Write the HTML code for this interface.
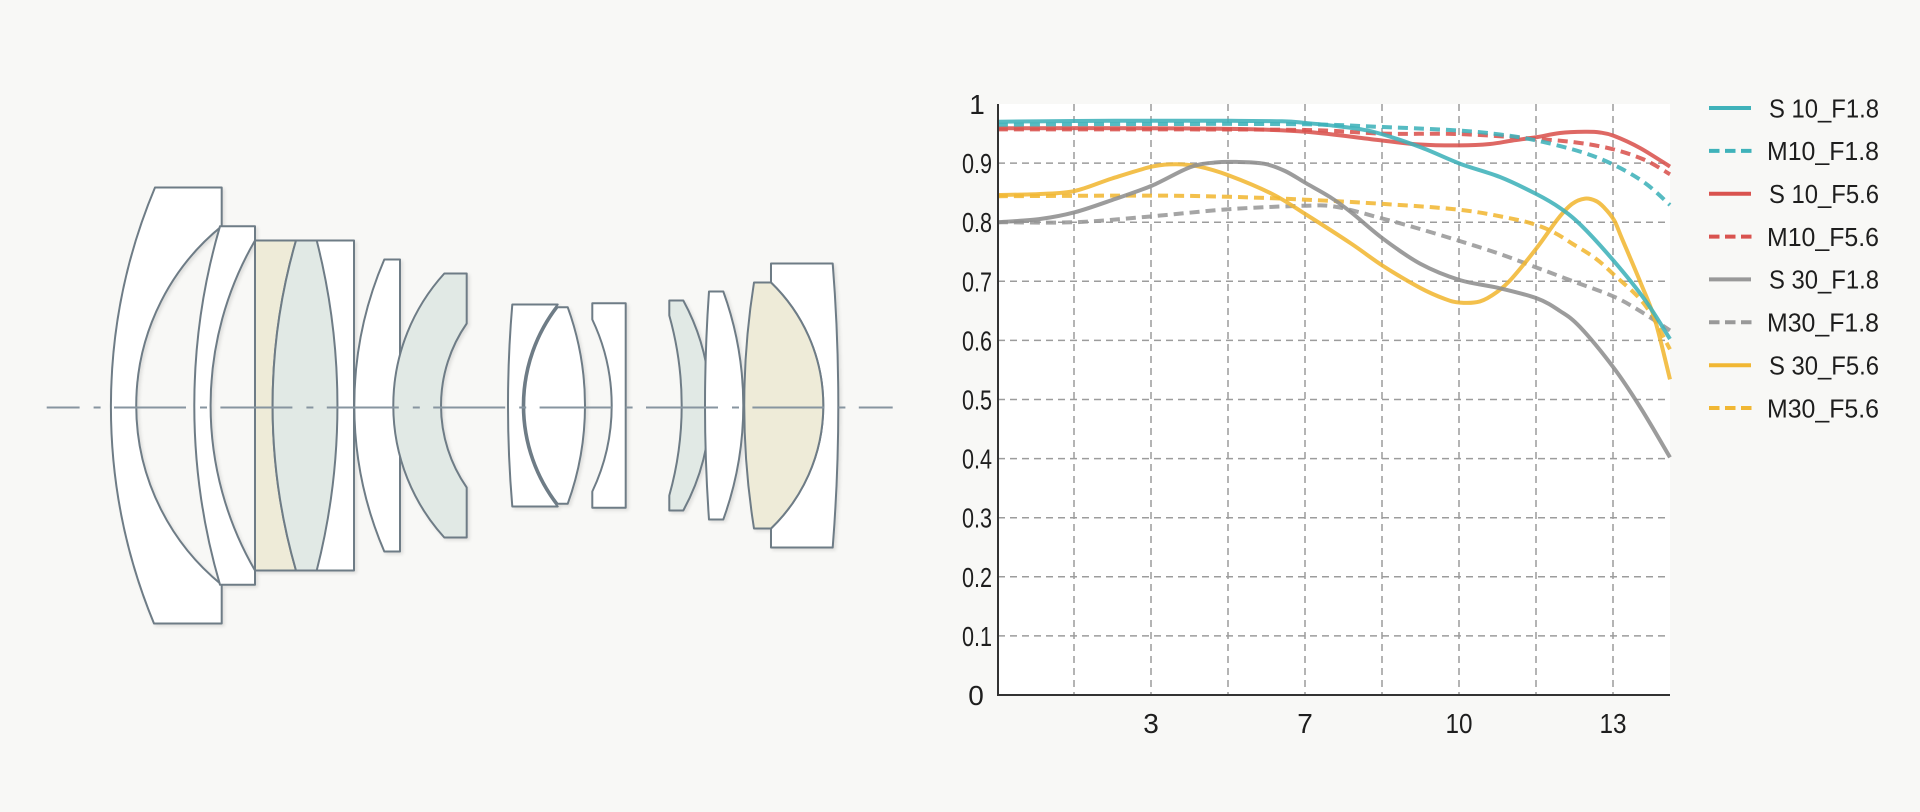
<!DOCTYPE html>
<html>
<head>
<meta charset="utf-8">
<style>
  html,body{margin:0;padding:0;background:#f8f8f6;}
  svg{display:block;}
  .lens{stroke:#6e7c86;stroke-width:2;stroke-linejoin:round;}
  .grid{stroke:#9c9c9c;stroke-width:1.5;stroke-dasharray:7 5;fill:none;}
  .ser{fill:none;stroke-width:4;stroke-linejoin:round;stroke-linecap:butt;opacity:0.88;}
  .dash{stroke-dasharray:10 6;}
  .tick{font-family:"Liberation Sans",sans-serif;font-size:28px;fill:#1e1e1e;}
  .leg{font-family:"Liberation Sans",sans-serif;font-size:26px;fill:#1e1e1e;}
</style>
</head>
<body>
<svg width="1920" height="812" viewBox="0 0 1920 812" xmlns="http://www.w3.org/2000/svg">
  <rect x="0" y="0" width="1920" height="812" fill="#f8f8f6"/>

  <!-- ================= LENS DIAGRAM ================= -->
  <g transform="translate(0,-2)" style="filter:drop-shadow(2px 2px 1.5px rgba(0,0,0,0.10))">
    <!-- Element 1 -->
    <path class="lens" fill="#ffffff" d="M155,189.5 L221.7,189.5 L221.7,228.2 A230.8,230.8 0 0 0 221.7,586.8 L221.7,625.5 L154,625.5 A567,567 0 0 1 155,189.5 Z"/>
    <!-- Element 2 -->
    <path class="lens" fill="#ffffff" d="M220,228.2 L255,228.2 L255,242.5 A328.7,328.7 0 0 0 255,572.5 L255,586.8 L220,586.8 A638.2,638.2 0 0 1 220,228.2 Z"/>
    <!-- Element 3 group -->
    <rect class="lens" fill="#ffffff" x="255" y="242.5" width="99" height="330"/>
    <path class="lens" fill="#eeebd8" d="M255,242.5 L296,242.5 A593.2,593.2 0 0 0 296,572.5 L255,572.5 Z"/>
    <path class="lens" fill="#e1e9e5" d="M296,242.5 A593.2,593.2 0 0 0 296,572.5 L316.7,572.5 A666.6,666.6 0 0 0 316.7,242.5 Z"/>
    <!-- Element 4 -->
    <path class="lens" fill="#ffffff" d="M384.3,261.5 L400,261.5 L400,553.5 L384.3,553.5 A370.3,370.3 0 0 1 384.3,261.5 Z"/>
    <!-- Element 5 -->
    <path class="lens" fill="#e1e9e5" d="M444.3,275.5 L466.7,275.5 L466.7,325.5 A143.7,143.7 0 0 0 466.7,489.5 L466.7,539.5 L444.3,539.5 A196.3,196.3 0 0 1 444.3,275.5 Z"/>
    <!-- Element 6 -->
    <path class="lens" fill="#ffffff" d="M512.3,306.5 L557.7,306.5 A163.2,163.2 0 0 0 557.7,508.5 L512.3,508.5 A1188,1188 0 0 1 512.3,306.5 Z"/>
    <!-- Element 7 -->
    <path class="lens" fill="#ffffff" d="M557.7,309.2 L567.7,309.2 A287.9,287.9 0 0 1 567.7,505.8 L557.7,505.8 A161.4,161.4 0 0 1 557.7,309.2 Z"/>
    <!-- Element 8 -->
    <path class="lens" fill="#ffffff" d="M592.3,305.2 L625.7,305.2 L625.7,509.8 L592.3,509.8 L592.3,493.5 A200.3,200.3 0 0 0 592.3,321.5 Z"/>
    <!-- Element 9 -->
    <path class="lens" fill="#e1e9e5" d="M669.3,302.5 L683.3,302.5 A219.8,219.8 0 0 1 683.3,512.5 L669.3,512.5 L669.3,497.5 A332.8,332.8 0 0 0 669.3,317.5 Z"/>
    <!-- Element 10 -->
    <path class="lens" fill="#ffffff" d="M709,293.5 L723.3,293.5 A334.9,334.9 0 0 1 723.3,521.5 L709,521.5 A1626.5,1626.5 0 0 1 709,293.5 Z"/>
    <!-- Element 12 -->
    <path class="lens" fill="#ffffff" d="M771,265.5 L832.7,265.5 A1803,1803 0 0 1 832.7,549.5 L771,549.5 L771,530.5 A170.8,170.8 0 0 0 771,284.5 Z"/>
    <!-- Element 11 -->
    <path class="lens" fill="#eeebd8" d="M754,284.5 L771,284.5 A170.8,170.8 0 0 1 771,530.5 L754,530.5 A784.7,784.7 0 0 1 754,284.5 Z"/>
  </g>
  <!-- optical axis -->
  <line x1="46.7" y1="407.5" x2="892.7" y2="407.5" stroke="#8795a0" stroke-width="2" stroke-dasharray="72 14 7 13.4" stroke-dashoffset="39.1"/>

  <!-- ================= CHART ================= -->
  <rect x="998" y="104" width="672" height="591" fill="#ffffff"/>

  <!-- horizontal grid -->
  <g class="grid">
    <line x1="998" y1="635.9" x2="1670" y2="635.9"/>
    <line x1="998" y1="576.8" x2="1670" y2="576.8"/>
    <line x1="998" y1="517.7" x2="1670" y2="517.7"/>
    <line x1="998" y1="458.6" x2="1670" y2="458.6"/>
    <line x1="998" y1="399.5" x2="1670" y2="399.5"/>
    <line x1="998" y1="340.4" x2="1670" y2="340.4"/>
    <line x1="998" y1="281.3" x2="1670" y2="281.3"/>
    <line x1="998" y1="222.2" x2="1670" y2="222.2"/>
    <line x1="998" y1="163.1" x2="1670" y2="163.1"/>
  </g>
  <!-- vertical grid -->
  <g class="grid">
    <line x1="1074" y1="104" x2="1074" y2="695"/>
    <line x1="1151" y1="104" x2="1151" y2="695"/>
    <line x1="1228" y1="104" x2="1228" y2="695"/>
    <line x1="1305" y1="104" x2="1305" y2="695"/>
    <line x1="1382" y1="104" x2="1382" y2="695"/>
    <line x1="1459" y1="104" x2="1459" y2="695"/>
    <line x1="1536" y1="104" x2="1536" y2="695"/>
    <line x1="1613" y1="104" x2="1613" y2="695"/>
  </g>

  <!-- series -->
  <g>
    <polyline class="ser dash" stroke="#f1b733" points="998,196.2 1152,195.6 1229,196.8 1306,199.7 1383,203.9 1460,209.8 1512,218.7 1537,225.2 1555,233 1572,243.5 1595,258 1614,274.8 1645,305 1670,349.3"/>
    <polyline class="ser dash" stroke="#999999" points="998,222.2 1075,222.2 1152,216.3 1229,209.2 1306,205.7 1337,207 1383,218.7 1420,229 1460,241.1 1500,254 1537,267.7 1575,282 1614,296.7 1640,311 1670,330.4"/>
    <polyline class="ser" stroke="#f1b733" points="998,195 1040,194 1075,190.9 1112,178.5 1152,166.6 1176,164.3 1199,166.6 1229,175.5 1273,194.4 1306,214.5 1351,243.5 1383,265.9 1420,287.8 1445,299 1460,302.6 1480,301.4 1497,292 1512,278.3 1537,247.6 1558,218.7 1572,204 1585,198.6 1596,201 1604,207.4 1614,220 1622,238.7 1641,283.7 1655,320 1670,379.4"/>
    <polyline class="ser" stroke="#8e8e8e" points="998,222.2 1040,219 1075,212.2 1115,199 1152,185.6 1190,167.2 1215,162.5 1236,161.9 1264,163.7 1285,171 1306,183.2 1330,197 1351,212.2 1383,238.7 1420,263.6 1460,280.1 1498,287.8 1537,298.4 1560,311 1580,327 1614,368.2 1641,408.4 1670,457.4"/>
    <polyline class="ser dash" stroke="#d9534f" points="998,129.4 1152,129.4 1306,130 1383,133.6 1460,134.1 1537,138.9 1580,143 1614,149.5 1645,160 1670,174.3"/>
    <polyline class="ser" stroke="#d9534f" points="998,128.2 1152,128.2 1240,129 1306,131.8 1383,140.6 1420,144.5 1460,145.4 1490,144 1512,140.6 1537,137.1 1560,133 1585,131.8 1600,132.5 1614,135.9 1640,148 1670,166.6"/>
    <polyline class="ser dash" stroke="#3fb2ba" points="998,124.7 1152,124 1306,124.3 1383,127 1460,130.6 1500,134.5 1537,140.6 1581,151.9 1614,164.9 1645,183 1670,205"/>
    <polyline class="ser" stroke="#3fb2ba" points="998,121.7 1075,121 1152,120.7 1229,120.8 1282,121.3 1306,123 1340,126.5 1374,132 1420,147 1460,163.7 1500,177 1537,194.4 1560,208 1581,225.2 1614,261.2 1645,300 1670,339"/>
  </g>

  <!-- axes -->
  <line x1="998" y1="104" x2="998" y2="696" stroke="#333333" stroke-width="2"/>
  <line x1="997" y1="695" x2="1670" y2="695" stroke="#333333" stroke-width="2"/>

  <!-- y tick labels -->
  <g class="tick" text-anchor="middle">
    <text x="977" y="114">1</text>
    <text x="977" y="173.1" textLength="30" lengthAdjust="spacingAndGlyphs">0.9</text>
    <text x="977" y="232.2" textLength="30" lengthAdjust="spacingAndGlyphs">0.8</text>
    <text x="977" y="291.3" textLength="30" lengthAdjust="spacingAndGlyphs">0.7</text>
    <text x="977" y="350.4" textLength="30" lengthAdjust="spacingAndGlyphs">0.6</text>
    <text x="977" y="409.5" textLength="30" lengthAdjust="spacingAndGlyphs">0.5</text>
    <text x="977" y="468.6" textLength="30" lengthAdjust="spacingAndGlyphs">0.4</text>
    <text x="977" y="527.7" textLength="30" lengthAdjust="spacingAndGlyphs">0.3</text>
    <text x="977" y="586.8" textLength="30" lengthAdjust="spacingAndGlyphs">0.2</text>
    <text x="977" y="645.9" textLength="30" lengthAdjust="spacingAndGlyphs">0.1</text>
    <text x="976" y="705">0</text>
  </g>
  <!-- x tick labels -->
  <g class="tick" text-anchor="middle">
    <text x="1151" y="733">3</text>
    <text x="1305" y="733">7</text>
    <text x="1459" y="733" textLength="27" lengthAdjust="spacingAndGlyphs">10</text>
    <text x="1613" y="733" textLength="27" lengthAdjust="spacingAndGlyphs">13</text>
  </g>

  <!-- legend -->
  <g stroke-width="4">
    <line x1="1709" y1="108" x2="1751" y2="108" stroke="#3fb2ba"/>
    <line x1="1709" y1="150.9" x2="1751.5" y2="150.9" stroke="#3fb2ba" stroke-dasharray="10.5 5.5"/>
    <line x1="1709" y1="193.7" x2="1751" y2="193.7" stroke="#d9534f"/>
    <line x1="1709" y1="236.6" x2="1751.5" y2="236.6" stroke="#d9534f" stroke-dasharray="10.5 5.5"/>
    <line x1="1709" y1="279.4" x2="1751" y2="279.4" stroke="#999999"/>
    <line x1="1709" y1="322.3" x2="1751.5" y2="322.3" stroke="#999999" stroke-dasharray="10.5 5.5"/>
    <line x1="1709" y1="365.2" x2="1751" y2="365.2" stroke="#f1b733"/>
    <line x1="1709" y1="408" x2="1751.5" y2="408" stroke="#f1b733" stroke-dasharray="10.5 5.5"/>
  </g>
  <g class="leg" text-anchor="end">
    <text x="1879" y="117.3" textLength="110" lengthAdjust="spacingAndGlyphs">S 10_F1.8</text>
    <text x="1879" y="160.2" textLength="112" lengthAdjust="spacingAndGlyphs">M10_F1.8</text>
    <text x="1879" y="203" textLength="110" lengthAdjust="spacingAndGlyphs">S 10_F5.6</text>
    <text x="1879" y="245.9" textLength="112" lengthAdjust="spacingAndGlyphs">M10_F5.6</text>
    <text x="1879" y="288.7" textLength="110" lengthAdjust="spacingAndGlyphs">S 30_F1.8</text>
    <text x="1879" y="331.6" textLength="112" lengthAdjust="spacingAndGlyphs">M30_F1.8</text>
    <text x="1879" y="374.5" textLength="110" lengthAdjust="spacingAndGlyphs">S 30_F5.6</text>
    <text x="1879" y="417.3" textLength="112" lengthAdjust="spacingAndGlyphs">M30_F5.6</text>
  </g>
</svg>
<script>
(function(){
  var pls = document.querySelectorAll('polyline.ser');
  for (var k=0;k<pls.length;k++){
    var pl = pls[k];
    var pts = pl.getAttribute('points').trim().split(/\s+/).map(function(s){var a=s.split(',');return [parseFloat(a[0]),parseFloat(a[1])];});
    if (pts.length<3) continue;
    var d = 'M'+pts[0][0]+','+pts[0][1];
    for (var i=0;i<pts.length-1;i++){
      var p0 = pts[i-1]||pts[i], p1=pts[i], p2=pts[i+1], p3=pts[i+2]||p2;
      var c1x=p1[0]+(p2[0]-p0[0])/6, c1y=p1[1]+(p2[1]-p0[1])/6;
      var c2x=p2[0]-(p3[0]-p1[0])/6, c2y=p2[1]-(p3[1]-p1[1])/6;
      d+=' C'+c1x.toFixed(2)+','+c1y.toFixed(2)+' '+c2x.toFixed(2)+','+c2y.toFixed(2)+' '+p2[0]+','+p2[1];
    }
    var path = document.createElementNS('http://www.w3.org/2000/svg','path');
    path.setAttribute('d',d);
    path.setAttribute('class',pl.getAttribute('class'));
    path.setAttribute('stroke',pl.getAttribute('stroke'));
    pl.parentNode.replaceChild(path,pl);
  }
})();
</script>
</body>
</html>
